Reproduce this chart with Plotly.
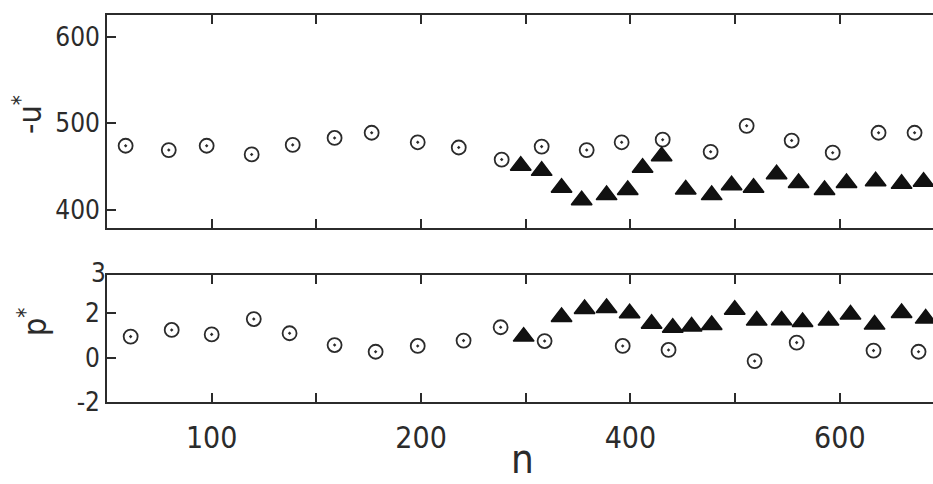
import plotly.graph_objects as go

# ---------------- data ----------------
# upper panel: -u*
n_top_circle = [58.9, 79.5, 97.6, 119.1, 138.7, 158.7, 176.4, 198.4, 218.0, 238.5,
                257.6, 279.1, 295.8, 315.4, 338.3, 355.5, 377.0, 396.6, 418.5, 435.7]
u_top_circle = [474, 469, 474, 464, 475, 483, 489, 478, 472, 458,
                473, 469, 478, 481, 467, 497, 480, 466, 489, 489]

n_top_tri = [247.6, 257.6, 267.1, 276.7, 288.6, 298.7, 305.8, 314.9, 326.4, 338.8,
             348.3, 358.8, 369.8, 380.3, 392.7, 403.2, 417.1, 429.5, 440.0]
u_top_tri = [451, 445, 425.5, 411, 417, 423, 448.5, 462, 423.5, 417,
             428.5, 425.5, 441, 431, 423, 431, 433, 430, 432.5]

# lower panel: p*
n_bot_circle = [61.3, 80.9, 100.0, 120.1, 137.2, 158.7, 178.3, 198.4, 220.3, 238.0,
                259.0, 296.3, 318.2, 359.3, 379.4, 416.1, 437.6]
p_bot_circle = [0.94, 1.24, 1.04, 1.73, 1.09, 0.56, 0.26, 0.52, 0.76, 1.36,
                0.74, 0.52, 0.34, -0.16, 0.67, 0.31, 0.26]

n_bot_tri = [249.0, 267.1, 278.1, 288.6, 299.6, 310.1, 320.2, 329.2, 338.8, 349.8,
             360.3, 372.2, 382.2, 394.6, 405.1, 416.6, 429.5, 441.0]
p_bot_tri = [0.94, 1.82, 2.18, 2.23, 1.99, 1.52, 1.34, 1.39, 1.46, 2.15,
             1.66, 1.67, 1.60, 1.66, 1.93, 1.48, 2.00, 1.75]

# axes ticks
n_tick_vals = [100, 200, 300, 400]
n_tick_labels = ["100", "200", "400", "600"]
n_minor_vals = [150, 250, 350]
u_tick_vals = [400, 500, 600]
u_tick_labels = ["400", "500", "600"]
p_tick_vals = [-2, 0, 2]
p_tick_labels = ["-2", "0", "2"]
p_top_tick_vals = [3]
p_top_tick_labels = ["3"]

# ---------------- styling ----------------
INK = "#2b2b2b"
FONT = "DejaVu Sans Condensed, Liberation Sans Narrow, Liberation Sans, sans-serif"
W, H = 933, 484

circ = dict(symbol="circle-open-dot", size=14, color=INK, line=dict(width=1.8, color=INK))
tri = dict(symbol="triangle-up", size=18, color="#111111", line=dict(width=1.5, color="#111111"))

fig = go.Figure()
fig.add_trace(go.Scatter(x=n_top_circle, y=u_top_circle, mode="markers", marker=circ,
                         xaxis="x2", yaxis="y2", showlegend=False))
fig.add_trace(go.Scatter(x=n_top_tri, y=u_top_tri, mode="markers", marker=tri,
                         xaxis="x2", yaxis="y2", showlegend=False))
fig.add_trace(go.Scatter(x=n_bot_circle, y=p_bot_circle, mode="markers", marker=circ,
                         xaxis="x", yaxis="y", showlegend=False))
fig.add_trace(go.Scatter(x=n_bot_tri, y=p_bot_tri, mode="markers", marker=tri,
                         xaxis="x", yaxis="y", showlegend=False))
fig.add_trace(go.Scatter(x=[], y=[], xaxis="x", yaxis="y3", showlegend=False))

x_dom = [107 / W, 1.0]
x_range = [50, 444.5]
p_range = [-2, 3.71]
common_x = dict(domain=x_dom, range=x_range, showgrid=False, zeroline=False,
                showline=True, linecolor=INK, linewidth=1.6, mirror="ticks",
                ticks="inside", ticklen=9, tickwidth=1.5, tickcolor=INK,
                tickvals=n_tick_vals, ticktext=n_tick_labels, automargin=False,
                minor=dict(tickvals=n_minor_vals, ticks="inside", ticklen=9,
                           tickwidth=1.5, tickcolor=INK, showgrid=False))
common_y = dict(showgrid=False, zeroline=False, showline=True, linecolor=INK,
                linewidth=1.6, mirror=False, ticks="inside", ticklen=9,
                tickwidth=1.5, tickcolor=INK, automargin=False,
                tickfont=dict(family=FONT, size=26, color=INK))

fig.update_layout(
    width=W, height=H,
    margin=dict(l=0, r=0, t=0, b=0, pad=0, autoexpand=False),
    paper_bgcolor="white", plot_bgcolor="white",
    xaxis=dict(**common_x, anchor="y", ticklabelstandoff=8,
               tickfont=dict(family=FONT, size=30, color=INK)),
    xaxis2=dict(**common_x, anchor="y2", matches="x", showticklabels=False),
    yaxis=dict(**common_y, domain=[1 - 402 / H, 1 - 275 / H], range=p_range,
               tickvals=p_tick_vals, ticktext=p_tick_labels, anchor="x"),
    yaxis3=dict(overlaying="y", range=p_range, anchor="x", side="left",
                showgrid=False, zeroline=False, showline=False, ticks="",
                automargin=False,
                tickvals=p_top_tick_vals, ticktext=p_top_tick_labels,
                ticklabelposition="outside top",
                tickfont=dict(family=FONT, size=26, color=INK)),
    yaxis2=dict(**common_y, domain=[1 - 228 / H, 1 - 15 / H], range=[379, 625],
                tickvals=u_tick_vals, ticktext=u_tick_labels, anchor="x2"),
    annotations=[
        dict(text="-u<sup>*</sup>", x=28 / W, y=1 - 115 / H, xref="paper", yref="paper",
             showarrow=False, textangle=-90, xanchor="center", yanchor="middle",
             font=dict(family=FONT, size=32, color=INK)),
        dict(text="p<sup>*</sup>", x=33 / W, y=1 - 322 / H, xref="paper", yref="paper",
             showarrow=False, textangle=-90, xanchor="center", yanchor="middle",
             font=dict(family=FONT, size=32, color=INK)),
        dict(text="n", x=522 / W, y=0, xref="paper", yref="paper",
             showarrow=False, xanchor="center", yanchor="bottom",
             font=dict(family=FONT, size=40, color=INK)),
    ],
)

fig.write_html("out.html", config={"displayModeBar": False},
               post_script="document.body.style.margin='0';")
